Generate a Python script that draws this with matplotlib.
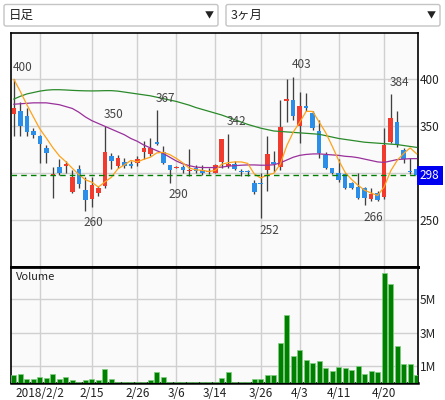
import matplotlib
matplotlib.use('Agg')
import matplotlib.pyplot as plt
import matplotlib.transforms as mtransforms
from matplotlib.patches import Rectangle, FancyBboxPatch

plt.rcParams['font.family'] = ['Noto Sans CJK JP', 'DejaVu Sans']

# trading days shown (3 months of daily candles)
dates = ['1/29', '1/30', '1/31', '2/1', '2/2', '2/5', '2/6', '2/7', '2/8', '2/9',
         '2/13', '2/14', '2/15', '2/16', '2/19', '2/20', '2/21', '2/22', '2/23', '2/26',
         '2/27', '2/28', '3/1', '3/2', '3/5', '3/6', '3/7', '3/8', '3/9', '3/12',
         '3/13', '3/14', '3/15', '3/16', '3/19', '3/20', '3/22', '3/23', '3/26', '3/27',
         '3/28', '3/29', '3/30', '4/2', '4/3', '4/4', '4/5', '4/6', '4/9', '4/10',
         '4/11', '4/12', '4/13', '4/16', '4/17', '4/18', '4/19', '4/20', '4/23', '4/24',
         '4/25', '4/26', '4/27']
opens = [363, 366, 361, 345,
         340, 327, 297, 307, 308, 280, 304, 282, 272, 279,
         286, 318, 308, 312, 310, 311, 323, 320, 333, 323,
         309, 306, 307, 302, 306, 303, 301, 300, 312, 308,
         310, 302, 302, 290, 289, 303, 312, 307, 377, 378,
         350, 372, 364, 345, 319, 305, 300, 299, 289, 285,
         284, 272, 279, 275, 333, 355, 325, 302, 304]
highs = [400, 376, 369, 348,
         341, 330, 307, 315, 313, 303, 309, 296, 296, 286,
         350, 322, 319, 316, 313, 318, 334, 338, 367, 329,
         309, 308, 309, 326, 309, 309, 306, 310, 336, 342,
         313, 304, 303, 293, 300, 340, 324, 378, 400, 403,
         387, 385, 366, 357, 323, 306, 315, 300, 291, 300,
         285, 284, 281, 348, 384, 366, 327, 316, 305]
lows = [340, 340, 340, 337,
        311, 311, 274, 298, 300, 279, 284, 260, 264, 276,
        284, 304, 306, 306, 306, 308, 315, 318, 330, 310,
        290, 305, 300, 297, 300, 298, 299, 300, 305, 305,
        303, 297, 297, 278, 252, 281, 301, 303, 355, 357,
        332, 366, 346, 316, 304, 299, 291, 283, 283, 273,
        266, 270, 270, 272, 332, 328, 311, 299, 297]
closes = [370, 350, 344, 341,
          331, 321, 299, 300, 310, 296, 288, 271, 287, 284,
          323, 313, 316, 308, 308, 315, 327, 327, 331, 311,
          303, 307, 303, 303, 302, 300, 301, 309, 336, 310,
          304, 301, 301, 280, 288, 320, 310, 349, 379, 361,
          372, 369, 348, 322, 305, 300, 293, 284, 284, 274,
          274, 278, 271, 330, 359, 330, 315, 301, 298]
# volume in millions of shares
volumes = [0.44, 0.50, 0.20, 0.20,
           0.36, 0.28, 0.50, 0.20, 0.32, 0.18, 0.06, 0.14, 0.20, 0.14,
           0.84, 0.20, 0.03, 0.03, 0.03, 0.06, 0.06, 0.16, 0.64, 0.36,
           0.02, 0.02, 0.02, 0.04, 0.02, 0.02, 0.02, 0.02, 0.30, 0.64,
           0.02, 0.02, 0.02, 0.20, 0.20, 0.44, 0.44, 2.40, 4.05, 1.62,
           1.94, 1.34, 1.20, 1.30, 0.87, 0.67, 0.95, 0.85, 0.76, 0.97,
           0.52, 0.71, 0.61, 6.57, 5.94, 2.17, 1.11, 1.11, 0.44]
# moving averages
ma_short = [400, 387, 373, 360,
            347.2, 337.4, 327.2, 318.4, 312.2, 305.2, 298.6, 293.0, 290.4, 285.2,
            290.6, 295.6, 304.6, 308.8, 313.6, 312.0, 314.8, 317.0, 321.6, 322.2,
            319.8, 315.8, 311.0, 305.4, 303.6, 303.0, 301.8, 303.0, 309.6, 311.2,
            312.0, 312.0, 310.4, 299.2, 294.8, 298.0, 299.8, 309.4, 329.2, 343.8,
            354.2, 366.0, 365.8, 354.4, 343.2, 328.8, 313.6, 300.8, 293.2, 287.0,
            281.8, 278.8, 276.2, 285.4, 302.4, 313.6, 321.0, 327.0, 320.6]
ma_mid = [373.5, 374, 374.5, 375,
          375, 375, 374, 373, 371, 369, 365, 360, 356, 353,
          350, 347, 344, 341, 337, 334, 330, 327, 324, 321,
          317, 313, 310, 308, 306.5, 306, 306, 306, 306.5, 307.5,
          308, 308.5, 308.8, 308.8, 308.5, 308.5, 309, 311, 314, 317,
          319, 320, 320.5, 320.6, 320, 319.5, 319, 318, 317.5, 316.5,
          315, 313.5, 312, 311.5, 313, 314.5, 315, 315.5, 315.5]
ma_long = [379, 382, 384.5, 386,
           387.5, 388.5, 389, 389, 388.7, 388.3, 388, 387.8, 387.7, 387.8,
           388, 388, 387.5, 386.5, 385.5, 384.5, 383.5, 382.5, 381, 379.5,
           378, 376.5, 374.5, 372.5, 370, 368, 366, 364, 362, 359.5,
           357, 354.5, 352, 350, 348, 346.5, 345, 344.5, 344, 343.5,
           343, 342.5, 342, 341.5, 340, 338.5, 337, 336, 335, 334,
           333, 332.5, 332, 331.5, 331, 330.5, 329.5, 328.5, 327.5]

tick_dates = ['2/2', '2/15', '2/26', '3/6', '3/14', '3/26', '4/3', '4/11', '4/20']
tick_labels = ['2018/2/2', '2/15', '2/26', '3/6', '3/14', '3/26', '4/3', '4/11', '4/20']
peak_days = ['1/29', '2/19', '3/1', '3/16', '4/2', '4/23']
trough_days = ['2/14', '3/5', '3/26', '4/17']
price_ticks = [250, 300, 350, 400]
vol_ticks = [1, 3, 5]
vol_tick_labels = ['1M', '3M', '5M']
last_price = 298
menu_labels = ['日足', '3ヶ月']

W, H = 445, 400
fig = plt.figure(figsize=(W / 100, H / 100), dpi=100)

# pixel-space background layer for the two drop-down boxes
bg = fig.add_axes([0, 0, 1, 1])
bg.set_xlim(0, W)
bg.set_ylim(H, 0)
bg.axis('off')
for x0, label in zip([4, 226], menu_labels):
    bg.add_patch(FancyBboxPatch((x0, 4.5), 214, 21.5, boxstyle='round,pad=0,rounding_size=2',
                                fc='white', ec='#c4c4c4', lw=1))
    bg.text(x0 + 5, 15.5, label, fontsize=9, va='center', ha='left', color='#222222')
    bg.text(x0 + 205, 15.5, '▼', fontsize=6.5, va='center', ha='center', color='#222222')


def px_axes(left, top, right, bottom):
    return fig.add_axes([left / W, 1 - bottom / H, (right - left) / W, (bottom - top) / H])


ax = px_axes(10.5, 32.5, 417.5, 266.5)
axv = px_axes(10.5, 266.5, 417.5, 382.5)

x = list(range(len(dates)))
tick_pos = [dates.index(d) for d in tick_dates]

# candles
for i in x:
    o, h, l, c = opens[i], highs[i], lows[i], closes[i]
    col = '#f03b2e' if c >= o else '#2b8ee8'
    ax.vlines(i, l, h, color='#404040', lw=0.95, zorder=3)
    ax.add_patch(Rectangle((i - 0.35, min(o, c)), 0.7, max(abs(c - o), 1.0),
                           fc=col, ec='none', zorder=4))

ax.plot(x, ma_long, color='#2a8a2a', lw=0.9, zorder=5)
ax.plot(x, ma_mid, color='#99309b', lw=0.9, zorder=5)
ax.plot(x, ma_short, color='#ffa21a', lw=0.9, zorder=6)
ax.axhline(last_price, color='#008000', lw=1.0, ls=(0, (4, 3)), zorder=6)

for d in peak_days:
    i = dates.index(d)
    ax.annotate(str(highs[i]), (i, highs[i]), xytext=(-1, 4), textcoords='offset points',
                ha='left', va='bottom', fontsize=8.5, color='#444444', zorder=7)
for d in trough_days:
    i = dates.index(d)
    ax.annotate(str(lows[i]), (i, lows[i]), xytext=(-1, -4), textcoords='offset points',
                ha='left', va='top', fontsize=8.5, color='#444444', zorder=7)

ax.set_xlim(-0.52, 62.13)
ax.set_ylim(200.5, 450)
ax.set_facecolor('#fafafa')
ax.yaxis.tick_right()
ax.set_yticks(price_ticks)
ax.set_yticklabels(['' if abs(t - last_price) < 10 else str(t) for t in price_ticks])
ax.set_xticks(tick_pos)
ax.tick_params(axis='x', length=0, labelbottom=False)
ax.tick_params(axis='y', length=0, pad=1.5, labelsize=8.5, labelcolor='#222222')
ax.grid(True, color='#d0d0d0', lw=1.0)
ax.set_axisbelow(True)
for s in ax.spines.values():
    s.set_linewidth(1.2)
ax.spines['bottom'].set_linewidth(2)

tr = mtransforms.blended_transform_factory(ax.transAxes, ax.transData)
ax.text(1.006, last_price, str(last_price), transform=tr, ha='left', va='center',
        color='white', fontsize=8.5, clip_on=False, zorder=10,
        bbox=dict(boxstyle='square,pad=0.25', fc='#0000f0', ec='none'))

# volume panel
axv.bar(x, volumes, width=0.76, color='#008000', edgecolor='#7fd07f', lw=0.5, zorder=3)
axv.set_xlim(-0.52, 62.13)
axv.set_ylim(0, 6.96)
axv.set_facecolor('#fafafa')
axv.yaxis.tick_right()
axv.set_yticks(vol_ticks)
axv.set_yticklabels(vol_tick_labels)
axv.set_xticks(tick_pos)
axv.set_xticklabels(tick_labels)
axv.tick_params(axis='x', length=0, pad=3, labelsize=8.5, labelcolor='#222222')
axv.tick_params(axis='y', length=0, pad=1.5, labelsize=8.5, labelcolor='#222222')
axv.grid(True, color='#d0d0d0', lw=1.0)
axv.set_axisbelow(True)
for s in axv.spines.values():
    s.set_linewidth(1.2)
axv.spines['top'].set_linewidth(2)
axv.spines['bottom'].set_linewidth(1.8)
axv.text(0.014, 0.95, 'Volume', transform=axv.transAxes, fontsize=8, va='top', ha='left',
         color='#222222')

fig.savefig('out.png', dpi=100)
